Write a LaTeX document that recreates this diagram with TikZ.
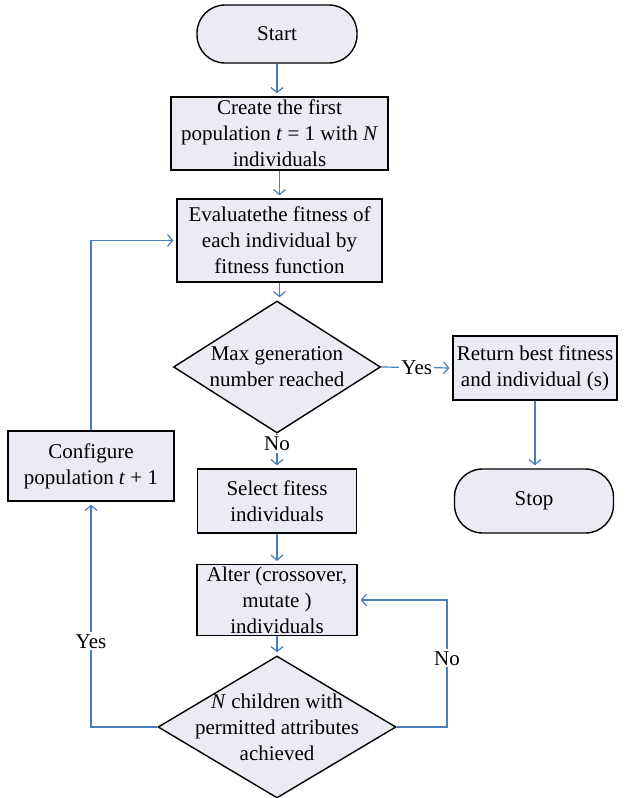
\documentclass[tikz,border=0pt]{standalone}
\usepackage{fontspec}
\setmainfont{Liberation Serif}
\usetikzlibrary{positioning, shapes.geometric, arrows.meta}
\definecolor{boxfill}{RGB}{235,235,244}
\definecolor{flowblue}{RGB}{74,126,187}

\begin{document}
\begin{tikzpicture}[x=0.5pt, y=-0.5pt, font=\fontsize{10.5}{13}\selectfont]

    \useasboundingbox (0,0) rectangle (626,798); % size of the original figure, 1 unit = 1 px

    % boxes of the flow chart, fixed sizes so the column lines up
    \begin{scope}[proc/.style={rectangle, draw=black, line width=0.7pt, fill=boxfill, align=center, inner sep=1pt},
                  term/.style={proc, rounded corners=14pt},
                  dec/.style={proc, diamond, aspect=1.6, inner sep=0pt}]

    \node [term, minimum width=80pt, minimum height=29pt]     (start)  at (277,34)    {Start};
    \node [proc, minimum width=108.5pt, minimum height=36.5pt] (create) at (279.5,133.5) {Create the first\\ population \textit{t}~=~1 with \textit{N}\\ individuals};
    \node [proc, minimum width=102.5pt, minimum height=41.5pt] (eval)  at (279.5,240.5) {Evaluatethe fitness of\\ each individual by\\ fitness function};
    \node [dec, minimum width=103.5pt, minimum height=66pt]  (dec1)   at (277,367)   {Max generation\\ number reached};
    \node [proc, minimum width=82pt, minimum height=32pt]    (ret)    at (535,368)   {Return best fitness\\ and individual (s)};
    \node [term, minimum width=79.5pt, minimum height=32pt]  (stop)   at (534,501)   {Stop};
    \node [proc, minimum width=83pt, minimum height=35pt]    (conf)   at (91,466)    {Configure\\ population \textit{t} + 1};
    \node [proc, minimum width=79.5pt, minimum height=32pt]  (sel)    at (277,501)   {Select fitess\\ individuals};
    \node [proc, minimum width=80pt, minimum height=33pt]    (alter)  at (277,600)   {Alter (crossover,\\ mutate )\\ individuals};
    \node [dec, minimum width=119pt, minimum height=71pt,
           label={[align=center]center:{\textit{N} children with\\ permitted attributes\\ achieved}}] (dec2) at (277,727) {};

    \end{scope}

    % connectors, blue with open tips
    \begin{scope}[flow/.style={draw=flowblue, line width=0.6pt, -{Straight Barb[length=2.5pt, width=6pt]}, shorten >=1.5pt},
                  lbl/.style={fill=white, inner sep=1pt}]

        \coordinate (nobend) at (447,600);

        \foreach \a/\b in {start/create, create/eval, eval/dec1, ret/stop, sel/alter, alter/dec2}
            \draw [flow] (\a.south) -- (\a.south |- \b.north);
        \draw [flow] (dec1.east) -- node [lbl] {Yes} (ret.west);
        \draw [flow] (dec1.south) -- node [lbl, pos=0.3] {No} (sel.north);
        \draw [flow] (dec2.west) -| node [lbl, pos=0.69] {Yes} (conf.south);
        \draw [flow] (dec2.east) -| node [lbl, pos=0.77] {No} (nobend) -- (alter.east);
        \draw [flow] (conf.north) |- (eval.west);

    \end{scope}

\end{tikzpicture}
\end{document}
